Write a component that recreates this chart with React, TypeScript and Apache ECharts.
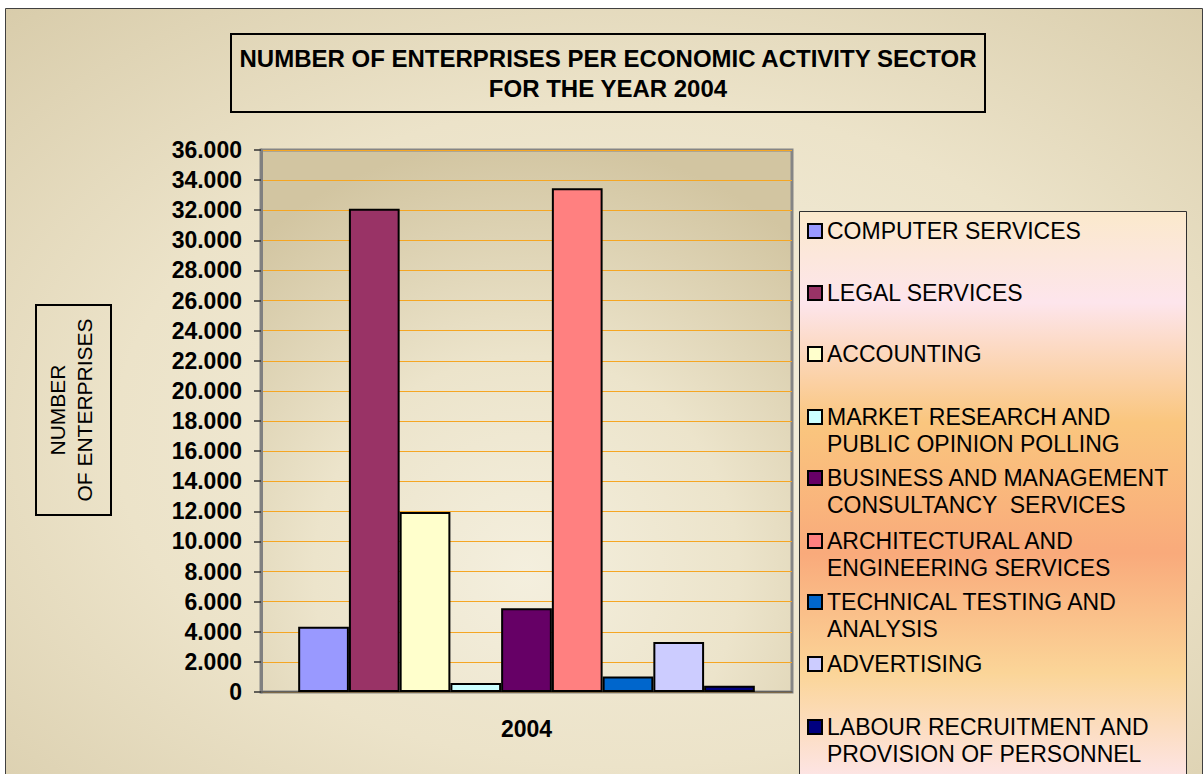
import React, { useEffect, useRef } from "react";
import * as echarts from "echarts";

const FONT = "'Liberation Sans', Arial, sans-serif";

const categories = ["2004"];

const seriesNames = [
  "COMPUTER SERVICES",
  "LEGAL SERVICES",
  "ACCOUNTING",
  "MARKET RESEARCH AND PUBLIC OPINION POLLING",
  "BUSINESS AND MANAGEMENT CONSULTANCY  SERVICES",
  "ARCHITECTURAL AND ENGINEERING SERVICES",
  "TECHNICAL TESTING AND ANALYSIS",
  "ADVERTISING",
  "LABOUR RECRUITMENT AND PROVISION OF PERSONNEL",
];

const legendLabels = [
  "COMPUTER SERVICES",
  "LEGAL SERVICES",
  "ACCOUNTING",
  "MARKET RESEARCH AND\nPUBLIC OPINION POLLING",
  "BUSINESS AND MANAGEMENT\nCONSULTANCY  SERVICES",
  "ARCHITECTURAL AND\nENGINEERING SERVICES",
  "TECHNICAL TESTING AND\nANALYSIS",
  "ADVERTISING",
  "LABOUR RECRUITMENT AND\nPROVISION OF PERSONNEL",
];

const values2004 = [4330, 32100, 11950, 600, 5570, 33460, 1030, 3320, 420];

const seriesColors = [
  "#9999FF",
  "#993366",
  "#FFFFCC",
  "#CCFFFF",
  "#660066",
  "#FF8080",
  "#0066CC",
  "#CCCCFF",
  "#000080",
];

// y (px) of the first text line centre of each legend entry
const legendLineY = [231, 293, 354, 417, 478, 541, 602, 664, 727];

const yTickValues = { min: 0, max: 36000, interval: 2000 };

export default function App() {
  const ref = useRef<HTMLDivElement>(null);

  useEffect(() => {
    if (!ref.current) return;
    const chart = echarts.init(ref.current, undefined, { renderer: "svg" });

    const legends = seriesNames.map((name, i) => {
      const twoLines = legendLabels[i].indexOf("\n") >= 0;
      return {
        data: [name],
        left: 807,
        top: legendLineY[i] - (twoLines ? 40.5 : 13.5),
        padding: 0,
        itemWidth: 14,
        itemHeight: 14,
        icon: "rect",
        selectedMode: false,
        // a blank first line keeps the icon level with the first text line
        formatter: () => (twoLines ? " \n" + legendLabels[i] : legendLabels[i]),
        textStyle: {
          fontFamily: FONT,
          fontSize: 23,
          color: "#000",
          lineHeight: 27,
        },
        z: 5,
      };
    });

    const option: any = {
      animation: false,
      backgroundColor: "#ffffff",
      textStyle: { fontFamily: FONT },
      title: {
        text: "NUMBER OF ENTERPRISES PER ECONOMIC ACTIVITY SECTOR\nFOR THE YEAR 2004",
        left: 600,
        top: 34,
        textAlign: "center",
        padding: [9, 8, 9, 8],
        borderColor: "#000",
        borderWidth: 2,
        textStyle: {
          fontFamily: FONT,
          fontSize: 24,
          fontWeight: "bold",
          color: "#000",
          lineHeight: 30,
        },
      },
      legend: legends,
      graphic: [
        {
          type: "rect",
          z: -10,
          shape: { x: 5.5, y: 8.5, width: 1197, height: 775 },
          style: {
            fill: new echarts.graphic.RadialGradient(0.52, 0.55, 0.95, [
              { offset: 0, color: "#f4efdf" },
              { offset: 0.45, color: "#ece3c9" },
              { offset: 1, color: "#cdbf99" },
            ]),
            stroke: "#404040",
            lineWidth: 1,
          },
        },
        {
          type: "rect",
          z: 3,
          shape: { x: 799.5, y: 211.5, width: 387, height: 570 },
          style: {
            fill: new echarts.graphic.LinearGradient(0, 0, 0, 1, [
              { offset: 0, color: "#fbe9cc" },
              { offset: 0.16, color: "#fde5ec" },
              { offset: 0.37, color: "#fac67e" },
              { offset: 0.6, color: "#f9aa7b" },
              { offset: 0.81, color: "#fbd598" },
              { offset: 1, color: "#fde5e8" },
            ]),
            stroke: "#303030",
            lineWidth: 1,
          },
        },
        {
          type: "rect",
          z: 3,
          shape: { x: 36, y: 305, width: 75, height: 210 },
          style: { fill: "transparent", stroke: "#000", lineWidth: 2 },
        },
        {
          type: "text",
          z: 3,
          x: 71,
          y: 410,
          rotation: Math.PI / 2,
          style: {
            text: "NUMBER\nOF ENTERPRISES",
            font: `21px ${FONT}`,
            fill: "#000",
            align: "center",
            verticalAlign: "middle",
            lineHeight: 27,
          },
        },
      ],
      grid: {
        left: 261,
        top: 150,
        width: 531,
        height: 542,
        show: true,
        backgroundColor: new echarts.graphic.RadialGradient(0.5, 0.78, 0.8, [
          { offset: 0, color: "#f4efde" },
          { offset: 0.5, color: "#ece4cb" },
          { offset: 1, color: "#d2c5a1" },
        ]),
        borderColor: "#858585",
        borderWidth: 3,
      },
      xAxis: {
        type: "category",
        data: categories,
        axisLine: { show: true, lineStyle: { color: "#555", width: 1.5 } },
        axisTick: { show: false },
        axisLabel: {
          fontFamily: FONT,
          fontSize: 23,
          fontWeight: "bold",
          color: "#000",
          margin: 25,
        },
        splitLine: { show: false },
      },
      yAxis: {
        type: "value",
        min: yTickValues.min,
        max: yTickValues.max,
        interval: yTickValues.interval,
        axisLine: { show: true, lineStyle: { color: "#808080", width: 3 } },
        axisTick: { show: true, length: 7, lineStyle: { color: "#333", width: 1.5 } },
        axisLabel: {
          fontFamily: FONT,
          fontSize: 23,
          fontWeight: "bold",
          color: "#000",
          margin: 19,
          formatter: (v: number) => String(v).replace(/\B(?=(\d{3})+(?!\d))/g, "."),
        },
        splitLine: { show: true, lineStyle: { color: "#f5a623", width: 1 } },
      },
      series: seriesNames.map((name, i) => ({
        name,
        type: "bar",
        data: [values2004[i]],
        barGap: "0%",
        barCategoryGap: "14%",
        itemStyle: { color: seriesColors[i], borderColor: "#000", borderWidth: 2 },
        emphasis: { disabled: true },
      })),
    };

    chart.setOption(option);
    return () => chart.dispose();
  }, []);

  return (
    <div
      ref={ref}
      style={{ position: "absolute", left: 0, top: 0, width: 1203, height: 774 }}
    />
  );
}
